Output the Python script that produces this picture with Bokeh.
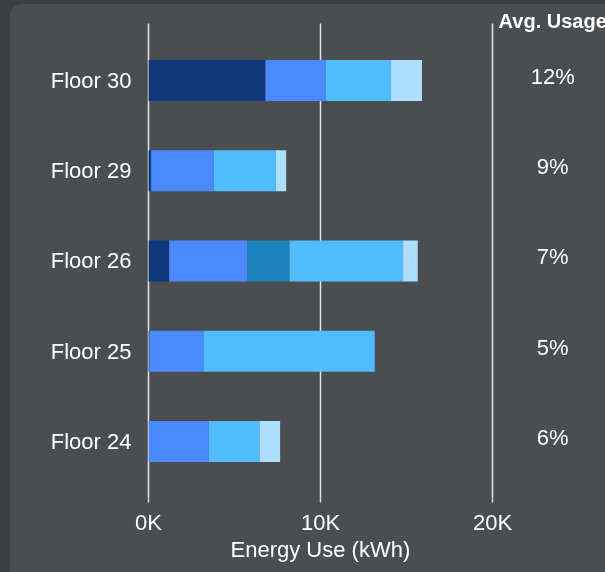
from bokeh.plotting import figure
from bokeh.models import ColumnDataSource, Range1d, FixedTicker, Title
from bokeh.core.properties import value
from bokeh.embed import file_html
from bokeh.resources import INLINE

# ---- data (kWh) ----
floors = ["Floor 24", "Floor 25", "Floor 26", "Floor 29", "Floor 30"]
navy = [0, 50, 1200, 150, 6800]
blue = [3500, 3150, 4550, 3650, 3500]
teal = [0, 0, 2450, 0, 0]
light = [2950, 9950, 6600, 3600, 3800]
pale = [1200, 0, 850, 600, 1800]
avg_usage = ["6%", "5%", "7%", "9%", "12%"]
avg_header = "Avg. Usage"
x_title = "Energy Use (kWh)"
x_ticks = [0, 10000, 20000]
x_tick_labels = ["0K", "10K", "20K"]

series = ["navy", "blue", "teal", "light", "pale"]
colors = ["#10397c", "#4a8afe", "#1d82bb", "#51bdfe", "#aee0fe"]

pos = list(range(len(floors)))
source = ColumnDataSource(dict(pos=pos, floor=floors, navy=navy, blue=blue,
                               teal=teal, light=light, pale=pale, avg=avg_usage))

FONT = "Liberation Sans"
TXT = "#ffffff"
GRID = "#e4e4e4"
PANEL = "#4b4e51"
OUTER = "#3c3f43"

PAD = 0.632          # space around outer bars, in row units
top = pos[-1]

p = figure(width=605, height=572,
           y_range=Range1d(pos[0] - PAD, top + 0.831),
           x_range=Range1d(-120, 26570),
           output_backend="svg", toolbar_location=None)

p.background_fill_color = None
p.border_fill_color = None
p.outline_line_color = None
p.min_border_left = 146
p.min_border_top = 5
p.min_border_right = 0
p.min_border_bottom = 74

p.hbar_stack(series, y="pos", height=0.455, fill_color=colors,
             line_color=None, source=source)

col_x = 23500
p.text(x=col_x, y="pos", text="avg", source=source, text_align="center",
       text_baseline="middle", y_offset=-4, text_font=value(FONT),
       text_font_size="22px", text_color=TXT)

p.text(x=[col_x], y=[top + 0.66], text=[avg_header], text_align="center",
       text_baseline="middle", text_font=value(FONT), text_font_size="20px",
       text_font_style="bold", text_color=TXT)

# grid
p.ygrid.grid_line_color = None
p.xgrid.ticker = FixedTicker(ticks=x_ticks)
p.xgrid.grid_line_color = GRID
p.xgrid.grid_line_width = 1.5
p.xgrid.cross_bounds = (pos[0] - PAD, top + PAD)

# x axis
p.xaxis.ticker = FixedTicker(ticks=x_ticks)
p.xaxis.major_label_overrides = {t: l for t, l in zip(x_ticks, x_tick_labels)}
p.xaxis.axis_line_color = None
p.xaxis.major_tick_line_color = GRID
p.xaxis.major_tick_line_width = 1.5
p.xaxis.major_tick_out = 4
p.xaxis.major_tick_in = 0
p.xaxis.minor_tick_line_color = None
p.xaxis.major_label_standoff = 7
p.xaxis.major_label_text_font = FONT
p.xaxis.major_label_text_font_size = "22px"
p.xaxis.major_label_text_color = TXT

# x-axis title, centred under the 0K-20K span
p.add_layout(Title(text=x_title, align="left", offset=84, standoff=-6,
                   text_font=FONT, text_font_size="22px",
                   text_font_style="normal", text_color=TXT), "below")

# y axis
p.yaxis.ticker = FixedTicker(ticks=pos)
p.yaxis.major_label_overrides = {i: f for i, f in zip(pos, floors)}
p.yaxis.axis_line_color = None
p.yaxis.major_tick_line_color = None
p.yaxis.major_tick_out = 0
p.yaxis.major_tick_in = 0
p.yaxis.minor_tick_line_color = None
p.yaxis.major_label_standoff = 15
p.yaxis.major_label_text_font = FONT
p.yaxis.major_label_text_font_size = "22px"
p.yaxis.major_label_text_color = TXT

html = file_html(p, INLINE, "Energy Use by Floor")
style = ("<style>html{background:%s;box-shadow:inset 10px 4px 0 0 %s;"
         "min-height:100%%;}"
         "html::before{content:'';position:fixed;left:10px;top:4px;width:12px;"
         "height:12px;background:radial-gradient(circle at 100%% 100%%, %s 11.5px, %s 12.5px);}"
         "</style>") % (PANEL, OUTER, PANEL, OUTER)
html = html.replace("</head>", style + "</head>", 1)
open("out.html", "w").write(html)
